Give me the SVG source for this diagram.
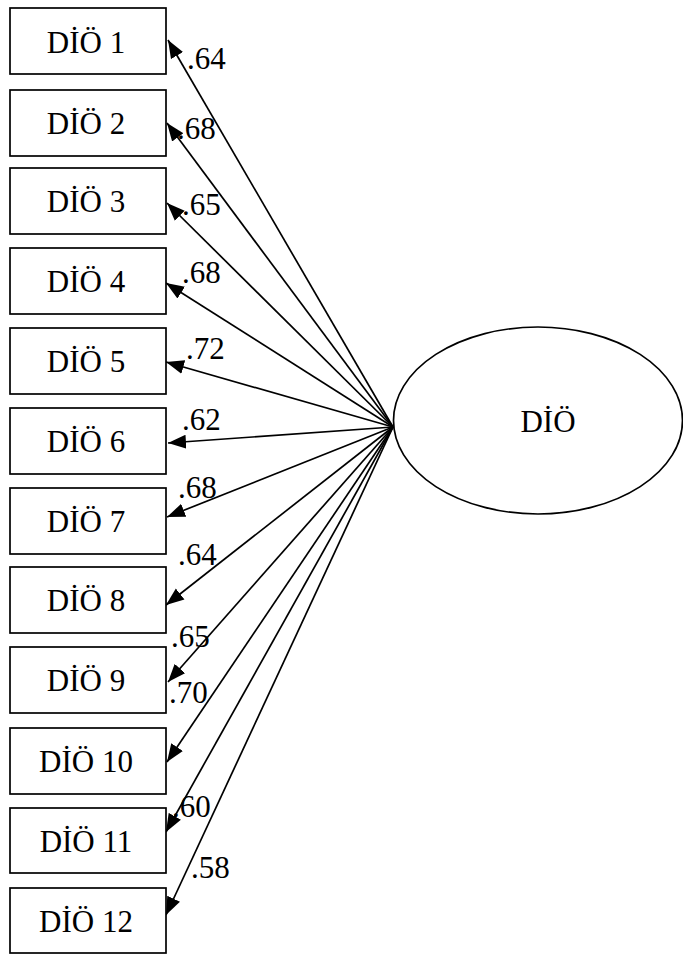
<svg xmlns="http://www.w3.org/2000/svg" width="683" height="956" viewBox="0 0 683 956">
<style>
.box{fill:#fff;stroke:#000;stroke-width:1.7}
.t{font-family:"Liberation Serif","Times New Roman",serif;font-size:31px;fill:#000}
.c{text-anchor:middle}
.e{stroke:#000;stroke-width:1.7;fill:none;marker-end:url(#ah)}
</style>
<defs>
<marker id="ah" markerUnits="userSpaceOnUse" markerWidth="19" markerHeight="15" refX="18" refY="7" orient="auto" viewBox="0 0 19 14">
<path d="M0,0 L18,7 L0,14 z" fill="#000"/>
</marker>
</defs>
<rect width="683" height="956" fill="#fff"/>
<g id="connectors">
<line class="e" x1="393" y1="427" x2="168" y2="40"/>
<line class="e" x1="393" y1="427" x2="167" y2="123"/>
<line class="e" x1="393" y1="427" x2="167" y2="203"/>
<line class="e" x1="393" y1="427" x2="166" y2="283"/>
<line class="e" x1="393" y1="427" x2="166" y2="362"/>
<line class="e" x1="393" y1="427" x2="168" y2="443"/>
<line class="e" x1="393" y1="427" x2="167" y2="517"/>
<line class="e" x1="393" y1="427" x2="166" y2="605"/>
<line class="e" x1="393" y1="427" x2="168" y2="682"/>
<line class="e" x1="393" y1="427" x2="167" y2="762"/>
<line class="e" x1="393" y1="427" x2="166" y2="832"/>
<line class="e" x1="393" y1="427" x2="166" y2="915"/>
<text class="t" x="187" y="69">.64</text>
<text class="t" x="177" y="139">.68</text>
<text class="t" x="182" y="215">.65</text>
<text class="t" x="182" y="283">.68</text>
<text class="t" x="186" y="359">.72</text>
<text class="t" x="182" y="430">.62</text>
<text class="t" x="178" y="498">.68</text>
<text class="t" x="178" y="565">.64</text>
<text class="t" x="171" y="647">.65</text>
<text class="t" x="169" y="703">.70</text>
<text class="t" x="172" y="817">.60</text>
<text class="t" x="191" y="878">.58</text>
</g>
<g id="DIO"><ellipse cx="538" cy="420.5" rx="144.5" ry="93.5" fill="#fff" stroke="#000" stroke-width="1.7"/><text class="t c" x="548" y="432">DİÖ</text></g>
<g id="n1"><rect class="box" x="10" y="8" width="156" height="66"/><text class="t c" x="86" y="53">DİÖ 1</text></g>
<g id="n2"><rect class="box" x="10" y="90" width="156" height="66"/><text class="t c" x="86" y="134">DİÖ 2</text></g>
<g id="n3"><rect class="box" x="10" y="168" width="156" height="66"/><text class="t c" x="86" y="212">DİÖ 3</text></g>
<g id="n4"><rect class="box" x="10" y="248" width="156" height="66"/><text class="t c" x="86" y="292">DİÖ 4</text></g>
<g id="n5"><rect class="box" x="10" y="328" width="156" height="66"/><text class="t c" x="86" y="372">DİÖ 5</text></g>
<g id="n6"><rect class="box" x="10" y="408" width="156" height="66"/><text class="t c" x="86" y="452">DİÖ 6</text></g>
<g id="n7"><rect class="box" x="10" y="488" width="156" height="66"/><text class="t c" x="86" y="532">DİÖ 7</text></g>
<g id="n8"><rect class="box" x="10" y="567" width="156" height="66"/><text class="t c" x="86" y="611">DİÖ 8</text></g>
<g id="n9"><rect class="box" x="10" y="647" width="156" height="66"/><text class="t c" x="86" y="691">DİÖ 9</text></g>
<g id="n10"><rect class="box" x="10" y="728" width="156" height="66"/><text class="t c" x="86" y="772">DİÖ 10</text></g>
<g id="n11"><rect class="box" x="10" y="808" width="156" height="65"/><text class="t c" x="86" y="852">DİÖ 11</text></g>
<g id="n12"><rect class="box" x="10" y="888" width="156" height="65"/><text class="t c" x="86" y="932">DİÖ 12</text></g>
</svg>
